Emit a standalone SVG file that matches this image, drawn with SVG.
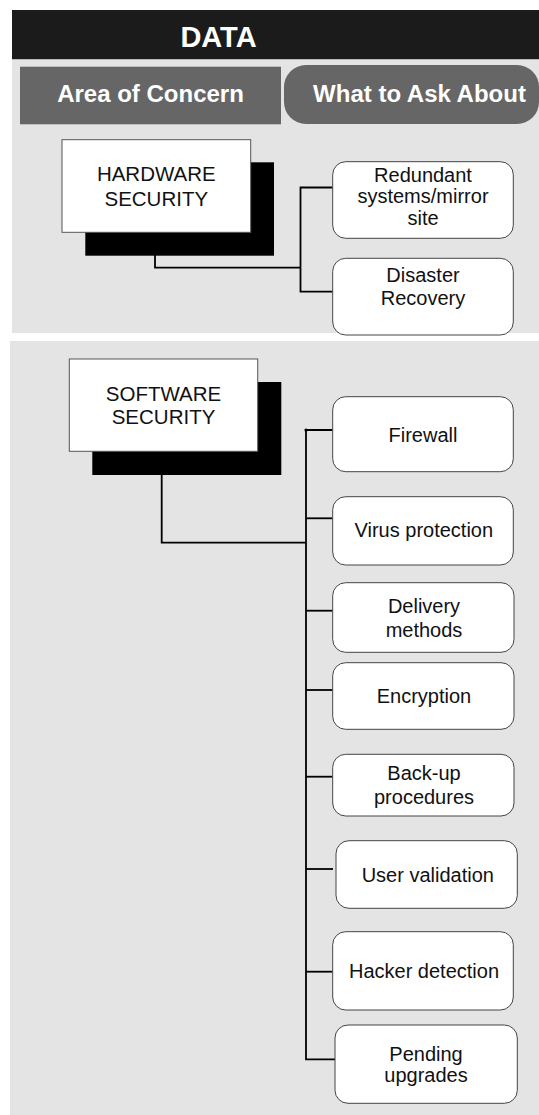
<svg xmlns="http://www.w3.org/2000/svg" width="539" height="1115" viewBox="0 0 539 1115">
  <style>
    .panel { fill: #e4e4e4; }
    .hdr { fill: #666666; }
    .hdrtxt { font-family: "Liberation Sans", Arial, sans-serif; font-weight: bold; font-size: 24px; fill: #ffffff; text-anchor: middle; }
    .title { font-family: "Liberation Sans", Arial, sans-serif; font-weight: bold; font-size: 29px; fill: #ffffff; text-anchor: middle; }
    .main { fill: #ffffff; stroke: #555555; stroke-width: 1; }
    .shadow { fill: #000000; }
    .maintxt { font-family: "Liberation Sans", Arial, sans-serif; font-size: 20.5px; fill: #111111; text-anchor: middle; }
    .child { fill: #ffffff; stroke: #444444; stroke-width: 1; }
    .childtxt { font-family: "Liberation Sans", Arial, sans-serif; font-size: 20px; fill: #111111; text-anchor: middle; }
    .conn { fill: none; stroke: #000000; stroke-width: 1.8; }
  </style>

  <!-- backgrounds -->
  <rect x="12" y="10" width="527" height="49.5" fill="#1b1b1b"/>
  <rect class="panel" x="12" y="59.5" width="527" height="273.5"/>
  <rect class="panel" x="10" y="341" width="529" height="774"/>

  <g id="title">
    <text class="title" x="218.5" y="46.7">DATA</text>
  </g>
  <g id="col-area">
    <rect class="hdr" x="20" y="66.7" width="261" height="57.6"/>
    <text class="hdrtxt" x="150.5" y="102.3">Area of Concern</text>
  </g>
  <g id="col-ask">
    <rect class="hdr" x="284" y="65" width="255" height="59" rx="22" ry="22"/>
    <text class="hdrtxt" x="419.5" y="101.7">What to Ask About</text>
  </g>

  <!-- connectors -->
  <g id="connectors">
    <path class="conn" d="M155,232 V267.7 H300.5"/>
    <path class="conn" d="M332.7,187.5 H300.5 V291.7 H332.7"/>
    <path class="conn" d="M161.7,451 V542.7 H306"/>
    <path class="conn" d="M332.7,430 H306 V1059.3 H335"/>
    <path class="conn" d="M306,518.3 H332.7"/>
    <path class="conn" d="M306,610.7 H332.7"/>
    <path class="conn" d="M306,690 H332.7"/>
    <path class="conn" d="M306,776.7 H332.7"/>
    <path class="conn" d="M306,869 H333"/>
    <path class="conn" d="M306,971.7 H332.7"/>
    <circle cx="306" cy="430" r="1.6" fill="#000"/>
  </g>

  <g id="hardware">
    <rect class="shadow" x="85.3" y="162.3" width="188.7" height="93.4"/>
    <rect class="main" x="62" y="139.7" width="188.7" height="92.6"/>
    <text class="maintxt" x="156.3" y="181">HARDWARE</text>
    <text class="maintxt" x="156.3" y="205.5">SECURITY</text>
  </g>

  <g id="redundant">
    <rect class="child" x="332.7" y="161.7" width="180.6" height="76.6" rx="13" ry="13"/>
    <text class="childtxt" x="423" y="181.7">Redundant</text>
    <text class="childtxt" x="423" y="203.3">systems/mirror</text>
    <text class="childtxt" x="423" y="225">site</text>
  </g>

  <g id="disaster">
    <rect class="child" x="332.7" y="258.3" width="180.6" height="76.7" rx="13" ry="13"/>
    <text class="childtxt" x="423" y="281.7">Disaster</text>
    <text class="childtxt" x="423" y="305">Recovery</text>
  </g>

  <g id="software">
    <rect class="shadow" x="92.3" y="382" width="189" height="93"/>
    <rect class="main" x="69.3" y="359" width="188.4" height="92.3"/>
    <text class="maintxt" x="163.5" y="401">SOFTWARE</text>
    <text class="maintxt" x="163.5" y="424.3">SECURITY</text>
  </g>

  <g id="firewall">
    <rect class="child" x="332.7" y="396.7" width="180.6" height="75" rx="13" ry="13"/>
    <text class="childtxt" x="423" y="441.7">Firewall</text>
  </g>

  <g id="virus">
    <rect class="child" x="332.7" y="496.7" width="180.6" height="68.3" rx="13" ry="13"/>
    <text class="childtxt" x="423.8" y="536.7">Virus protection</text>
  </g>

  <g id="delivery">
    <rect class="child" x="332.7" y="582.7" width="181.3" height="69.6" rx="13" ry="13"/>
    <text class="childtxt" x="424" y="613.3">Delivery</text>
    <text class="childtxt" x="424" y="636.7">methods</text>
  </g>

  <g id="encryption">
    <rect class="child" x="332.7" y="662.7" width="181.3" height="66.6" rx="13" ry="13"/>
    <text class="childtxt" x="424" y="702.7">Encryption</text>
  </g>

  <g id="backup">
    <rect class="child" x="332.7" y="754.3" width="181.3" height="61.7" rx="13" ry="13"/>
    <text class="childtxt" x="424" y="780">Back-up</text>
    <text class="childtxt" x="424" y="804">procedures</text>
  </g>

  <g id="user-validation">
    <rect class="child" x="336" y="840.7" width="181.3" height="67.6" rx="13" ry="13"/>
    <text class="childtxt" x="427.8" y="881.7">User validation</text>
  </g>

  <g id="hacker">
    <rect class="child" x="332.7" y="931.7" width="180.6" height="78.3" rx="13" ry="13"/>
    <text class="childtxt" x="424" y="978.3">Hacker detection</text>
  </g>

  <g id="pending">
    <rect class="child" x="335" y="1025" width="182.3" height="78.3" rx="13" ry="13"/>
    <text class="childtxt" x="426" y="1060.7">Pending</text>
    <text class="childtxt" x="426" y="1081.7">upgrades</text>
  </g>
</svg>
